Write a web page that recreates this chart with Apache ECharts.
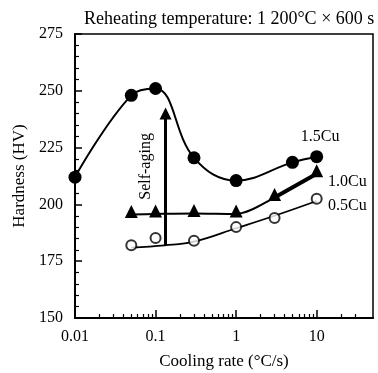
<!DOCTYPE html>
<html>
<head>
<meta charset="utf-8">
<script src="https://cdn.jsdelivr.net/npm/echarts@6/dist/echarts.min.js"></script>
<style>
    html, body { margin: 0; padding: 0; background: #fff; }
    .chart { width: 378px; height: 373px; }
</style>
</head>
<body>
<div class="chart"></div>
<script>
// cooling rate (°C/s) for each steel
const rate15 = [0.01, 0.05, 0.1, 0.3, 1, 5, 10]
const cu15 = [212, 248, 251, 220.5, 210.5, 218.5, 221]

const rate10 = [0.05, 0.1, 0.3, 1, 3, 10]
const cu10 = [195.6, 195.8, 196, 195.8, 203, 213.5]

const rate05 = [0.05, 0.1, 0.3, 1, 3, 10]
const cu05 = [182, 185.2, 184, 190, 194, 202.5]
// fitted trend drawn through the 0.5Cu points
const fitRate05 = [0.05, 0.13, 0.3, 1, 3, 10]
const fitCu05 = [181, 182, 183.6, 189.5, 195, 201.5]

// self-aging arrow (rate, from, to)
const agingRate = 0.133
const agingFrom = 182
const agingTo = 244.5

const majorTicks = [0.01, 0.1, 1, 10]
const minorTicks = [0.02, 0.03, 0.04, 0.05, 0.06, 0.07, 0.08, 0.09,
    0.2, 0.3, 0.4, 0.5, 0.6, 0.7, 0.8, 0.9,
    2, 3, 4, 5, 6, 7, 8, 9, 20, 30]

const noteTexts = ['1.5Cu', '1.0Cu', '0.5Cu', 'Self-aging']
const notePos = [[11.2, 229.7], [24.4, 209.9], [24.4, 199.3], [0.077, 216.5]]

const pairs = function (xs, ys) {
    return xs.map(function (x, i) { return [x, ys[i]] })
}

const font = 'Liberation Serif'

;(function () {
    const myChart = echarts.init(document.querySelector('.chart'))

    const option = {
        animation: false,
        title: {
            text: 'Reheating temperature: 1 200°C × 600 s',
            left: 79,
            top: 5,
            textStyle: { fontFamily: font, fontSize: 18, fontWeight: 'normal', color: '#000' }
        },
        grid: {
            left: 75, right: 5, top: 34, bottom: 55,
            outerBoundsMode: 'none',
            show: true,
            borderColor: '#000',
            borderWidth: 1.5
        },
        xAxis: [
            {
                type: 'log',
                logBase: 10,
                min: 0.01,
                max: 50,
                name: 'Cooling rate (°C/s)',
                nameLocation: 'middle',
                nameGap: 35,
                nameTextStyle: { fontFamily: font, fontSize: 17, color: '#000' },
                axisLine: { lineStyle: { color: '#000', width: 2 } },
                axisTick: { inside: true, length: 8, customValues: majorTicks, lineStyle: { color: '#000', width: 1.5 } },
                axisLabel: {
                    customValues: majorTicks,
                    margin: 11,
                    fontFamily: font, fontSize: 16, color: '#000',
                    formatter: function (v) { return String(v) }
                },
                splitLine: { show: false }
            },
            {
                type: 'log',
                logBase: 10,
                min: 0.01,
                max: 50,
                position: 'bottom',
                axisLine: { show: false },
                axisTick: { inside: true, length: 4, customValues: minorTicks, lineStyle: { color: '#000', width: 1.2 } },
                axisLabel: { show: false },
                splitLine: { show: false }
            }
        ],
        yAxis: {
            type: 'value',
            min: 150,
            max: 275,
            interval: 25,
            name: 'Hardness (HV)',
            nameLocation: 'middle',
            nameGap: 44,
            nameTextStyle: { fontFamily: font, fontSize: 17, color: '#000' },
            axisLine: { show: true, lineStyle: { color: '#000', width: 2 } },
            axisTick: { inside: true, length: 7, lineStyle: { color: '#000', width: 1.5 } },
            minorTick: { show: true, splitNumber: 5, length: 4, lineStyle: { color: '#000', width: 1.2 } },
            axisLabel: { margin: 12, fontFamily: font, fontSize: 16, color: '#000' },
            splitLine: { show: false }
        },
        series: [
            {
                name: '1.5Cu',
                type: 'line',
                data: pairs(rate15, cu15),
                smooth: 0.4,
                symbol: 'circle',
                symbolSize: 13,
                itemStyle: { color: '#000' },
                lineStyle: { color: '#000', width: 2 }
            },
            {
                name: '1.0Cu',
                type: 'line',
                data: pairs(rate10, cu10),
                smooth: 0.3,
                symbol: 'triangle',
                symbolSize: 13,
                symbolOffset: [0, -3],
                itemStyle: { color: '#000' },
                lineStyle: { color: '#000', width: 2 }
            },
            {
                name: '1.0Cu bold',
                type: 'line',
                data: pairs(rate10.slice(4), cu10.slice(4)),
                symbol: 'none',
                lineStyle: { color: '#000', width: 4 }
            },
            {
                name: '0.5Cu fit',
                type: 'line',
                data: pairs(fitRate05, fitCu05),
                smooth: 0.4,
                symbol: 'none',
                lineStyle: { color: '#000', width: 1.8 }
            },
            {
                name: '0.5Cu',
                type: 'scatter',
                data: pairs(rate05, cu05),
                symbol: 'circle',
                symbolSize: 10,
                itemStyle: { color: '#fff', borderColor: '#000', borderWidth: 2 },
                z: 5
            },
            {
                name: 'aging',
                type: 'lines',
                coordinateSystem: 'cartesian2d',
                symbol: ['none', 'triangle'],
                symbolSize: [20, 12],
                lineStyle: { color: '#000', width: 3, opacity: 1 },
                data: [{ coords: [[agingRate, agingFrom], [agingRate, agingTo - 4.5]] }]
            },
            {
                name: 'notes',
                type: 'scatter',
                symbolSize: 1,
                itemStyle: { opacity: 0 },
                data: noteTexts.map(function (t, i) {
                    return {
                        value: notePos[i],
                        label: { formatter: t, rotate: t === 'Self-aging' ? 90 : 0 }
                    }
                }),
                label: {
                    show: true,
                    position: [0, 0],
                    align: 'center',
                    verticalAlign: 'middle',
                    fontFamily: font,
                    fontSize: 16,
                    color: '#000',
                    opacity: 1
                }
            }
        ]
    }

    myChart.setOption(option)

    window.addEventListener('resize', function () {
        myChart.resize()
    })
})()
</script>
</body>
</html>
